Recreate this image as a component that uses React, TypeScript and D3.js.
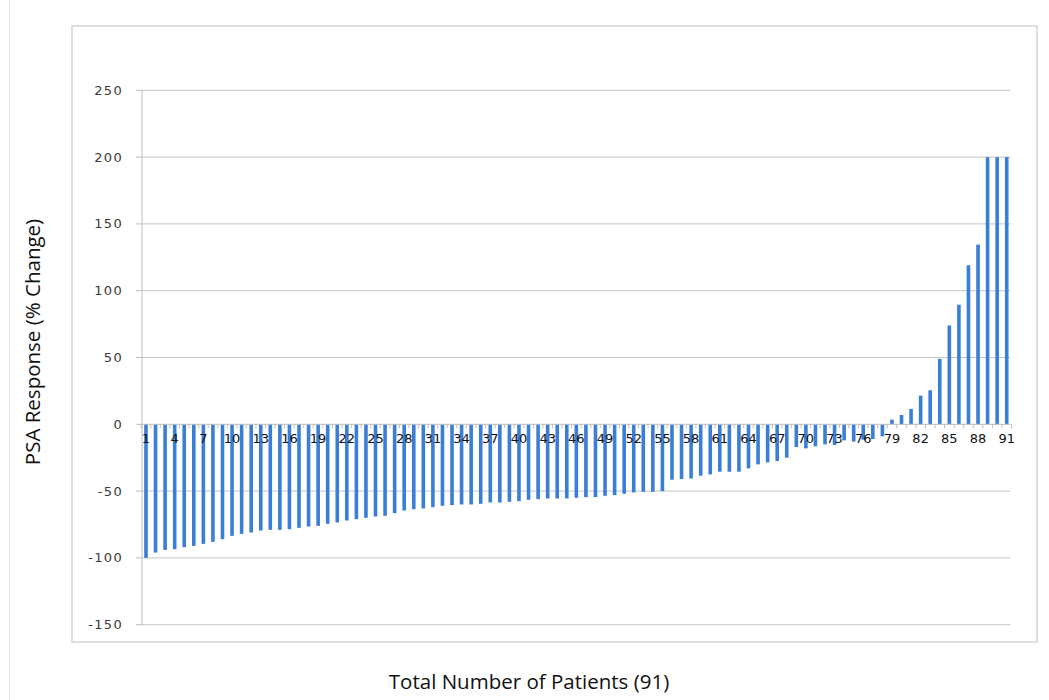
import React from "react";
import * as d3 from "d3";

// PSA response (% change) per patient, sorted (patients 1..91)
const psaChange: number[] = [
  -100, -96, -94, -93.5, -92, -91, -89.5, -88, -86, -83.5,
  -82, -81, -79.5, -79, -79, -78.5, -77.5, -76.5, -76, -74.5,
  -73.5, -72, -71, -70, -69, -68.5, -66.5, -64.5, -63.5, -63,
  -62, -61, -60.5, -60, -60, -59.5, -58.5, -58.5, -58, -57.5,
  -56.5, -56, -55.5, -55.5, -55.5, -55, -54.5, -54.5, -53.5, -53,
  -52, -51, -50.5, -50.5, -50, -41.5, -41, -40.5, -38.5, -37.5,
  -35.5, -35.5, -35.5, -33, -30, -28.5, -27.5, -25, -17, -18,
  -16.5, -15, -15.5, -12, -13, -11.5, -11, -9, 3.5, 7,
  11.5, 21.5, 25.5, 49, 74, 89.5, 119, 134.5, 200, 200,
  200,
];
const patients: string[] = psaChange.map((_, i) => String(i + 1));
const xTickLabels: string[] = [
  "1", "4", "7", "10", "13", "16", "19", "22", "25", "28", "31",
  "34", "37", "40", "43", "46", "49", "52", "55", "58", "61",
  "64", "67", "70", "73", "76", "79", "82", "85", "88", "91",
];
const yTicks: number[] = [-150, -100, -50, 0, 50, 100, 150, 200, 250];
const yTitle = "PSA Response (% Change)";
const xTitle = "Total Number of Patients (91)";

const W = 1049;
const H = 700;
const plotLeft = 142;
const plotRight = 1010.5;
const plotTop = 90.3;
const plotBottom = 624.7;

export default function App() {
  const x = d3
    .scaleBand<string>()
    .domain(patients)
    .range([141.2, 1011.5])
    .paddingInner(0)
    .paddingOuter(0);
  const y = d3.scaleLinear().domain([-150, 250]).range([plotBottom, plotTop]);
  const bw = x.bandwidth();
  const barW = 3.6;
  const y0 = y(0);
  const barColor = "#3a7ed8";

  const boundaries = patients.map((p) => (x(p) as number)).concat([141.2 + bw * patients.length]);

  return (
    <svg
      width={W}
      height={H}
      style={{ position: "absolute", left: 0, top: 0, background: "#fff" }}
    >
      <rect x={0} y={0} width={W} height={H} fill="#fff" />
      <line x1={9.5} x2={9.5} y1={0} y2={H} stroke="#e4e4e4" strokeWidth={1} />
      <rect x={72} y={26} width={965} height={616} fill="none" stroke="#d4d4d4" strokeWidth={1.5} />

      {/* gridlines */}
      {yTicks.filter((t) => t !== 0).map((t) => (
        <line key={"g" + t} x1={plotLeft} x2={plotRight} y1={y(t)} y2={y(t)} stroke="#c4c4c4" strokeWidth={1} />
      ))}

      {/* bars */}
      {psaChange.map((v, i) => {
        const cx = (x(patients[i]) as number) + bw / 2;
        const top = Math.min(y(v), y0);
        const h = Math.abs(y(v) - y0);
        return (
          <rect key={"b" + i} x={cx - barW / 2} y={top} width={barW} height={h} fill={barColor} />
        );
      })}

      {/* zero axis */}
      <line x1={plotLeft} x2={plotRight} y1={y0} y2={y0} stroke="#bdbdbd" strokeWidth={1} />
      {boundaries.map((bx, i) => (
        <line key={"xt" + i} x1={bx} x2={bx} y1={y0} y2={y0 + 4} stroke="#bdbdbd" strokeWidth={1} />
      ))}

      {/* y axis */}
      <line x1={plotLeft} x2={plotLeft} y1={plotTop} y2={plotBottom} stroke="#bdbdbd" strokeWidth={1} />
      {yTicks.map((t) => (
        <g key={"yt" + t}>
          <line x1={plotLeft - 6} x2={plotLeft} y1={y(t)} y2={y(t)} stroke="#bdbdbd" strokeWidth={1} />
          <text
            x={123}
            y={y(t)}
            dy="0.35em"
            textAnchor="end"
            fontFamily="DejaVu Sans, Verdana, sans-serif"
            fontSize={13}
            letterSpacing={1.3}
            fill="#3a3a3a"
          >
            {t}
          </text>
        </g>
      ))}

      {/* x tick labels */}
      {xTickLabels.map((l) => (
        <text
          key={"xl" + l}
          x={(x(l) as number) + bw / 2}
          y={y0 + 19}
          textAnchor="middle"
          fontFamily="DejaVu Sans, Verdana, sans-serif"
          fontSize={13}
          fill="#111"
        >
          {l}
        </text>
      ))}

      {/* axis titles */}
      <text
        x={529}
        y={689}
        textAnchor="middle"
        fontFamily="Open Sans, Lato, sans-serif"
        fontSize={20.5}
        fill="#111"
      >
        {xTitle}
      </text>
      <text
        transform={`translate(40,342) rotate(-90)`}
        textAnchor="middle"
        fontFamily="Open Sans, Lato, sans-serif"
        fontSize={20.5}
        fill="#111"
      >
        {yTitle}
      </text>
    </svg>
  );
}
